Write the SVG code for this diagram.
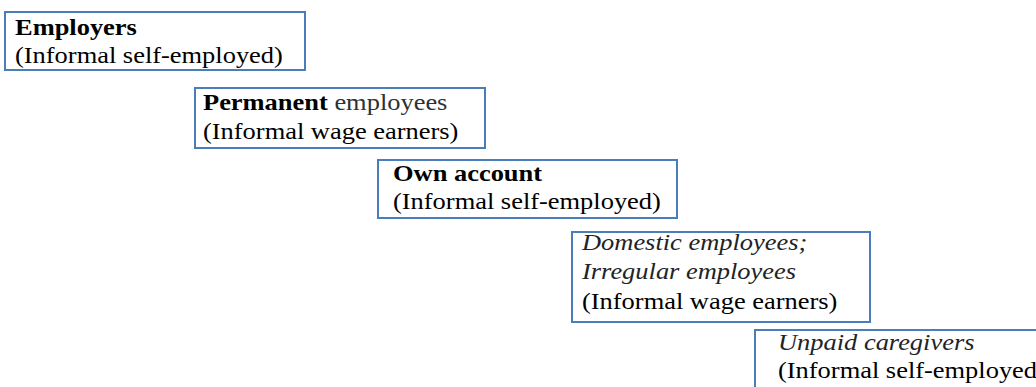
<svg xmlns="http://www.w3.org/2000/svg" width="1036" height="387" viewBox="0 0 1036 387">
  <style>
    .box { fill: #ffffff; stroke: #4a7ebb; stroke-width: 2; }
    .lbl { font-family: "Liberation Serif", "Times New Roman", serif; font-size: 23px; fill: #000; }
    .b { font-weight: bold; }
    .i { font-style: italic; fill: #1e2428; }
    .g { fill: #2b3236; }
  </style>
  <rect width="1036" height="387" fill="#ffffff"/>
  <g id="connectors"></g>

  <g id="employers">
    <rect class="box" x="5" y="12" width="300" height="58"/>
    <text class="lbl" transform="matrix(1.15 0 0 1 15 0)" x="0" y="35"><tspan class="b">Employers</tspan></text>
    <text class="lbl" transform="matrix(1.15 0 0 1 15 0)" x="0" y="63">(Informal self-employed)</text>
  </g>

  <g id="permanent">
    <rect class="box" x="195" y="88" width="290" height="60"/>
    <text class="lbl" transform="matrix(1.15 0 0 1 203 0)" x="0" y="110"><tspan class="b">Permanent</tspan><tspan class="g"> employees</tspan></text>
    <text class="lbl" transform="matrix(1.15 0 0 1 203 0)" x="0" y="139">(Informal wage earners)</text>
  </g>

  <g id="own-account">
    <rect class="box" x="378" y="160" width="299" height="58"/>
    <text class="lbl" transform="matrix(1.15 0 0 1 393 0)" x="0" y="181"><tspan class="b">Own account</tspan></text>
    <text class="lbl" transform="matrix(1.15 0 0 1 393 0)" x="0" y="209">(Informal self-employed)</text>
  </g>

  <g id="domestic">
    <rect class="box" x="572" y="232" width="298" height="90"/>
    <text class="lbl i" transform="matrix(1.15 0 0 1 582 0)" x="0" y="250">Domestic employees;</text>
    <text class="lbl i" transform="matrix(1.15 0 0 1 582 0)" x="0" y="279">Irregular employees</text>
    <text class="lbl" transform="matrix(1.15 0 0 1 582 0)" x="0" y="309">(Informal wage earners)</text>
  </g>

  <g id="unpaid">
    <rect class="box" x="755" y="330" width="300" height="70"/>
    <text class="lbl i" transform="matrix(1.15 0 0 1 778 0)" x="0" y="350">Unpaid caregivers</text>
    <text class="lbl" transform="matrix(1.15 0 0 1 778 0)" x="0" y="378">(Informal self-employed)</text>
  </g>
</svg>
